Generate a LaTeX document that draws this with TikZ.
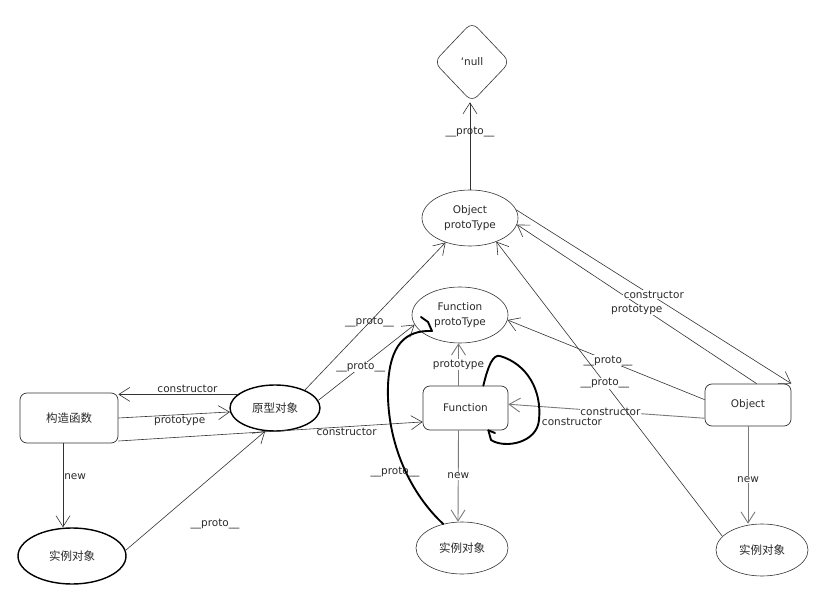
\documentclass[tikz,border=0pt]{standalone}
\usepackage{fontspec}
\setmainfont{DejaVu Sans}
\newfontfamily\cjk{Noto Sans CJK SC}
\usetikzlibrary{arrows.meta,shapes.geometric}
\definecolor{ln}{HTML}{333333}
\definecolor{gln}{HTML}{7A7A7A}
\definecolor{txt}{HTML}{2A2A2A}
\begin{document}
\begin{tikzpicture}[x=1pt,y=-1pt,
  every node/.style={font=\fontsize{10.5}{15}\selectfont, text=txt},
  cjkfont/.style={font=\cjk\fontsize{11.5}{14}\selectfont},
  box/.style={draw=ln, line width=0.7pt, rounded corners=7pt, inner sep=0pt},
  ell/.style={ellipse, draw=ln, line width=0.6pt, inner sep=0pt, align=center},
  thickell/.style={ellipse, draw=black, line width=1.4pt, inner sep=0pt},
  conn/.style={draw=ln, line width=0.6pt, -{Straight Barb[length=11pt,width=14pt]}},
  gconn/.style={draw=gln, line width=0.9pt, -{Straight Barb[length=11pt,width=14pt]}},
  lbl/.style={fill=white, inner sep=0.5pt},
  flt/.style={inner sep=1pt},
  pen/.style={draw=black, line width=1.9pt, line cap=round, line join=round}]
\fill[white] (0,0) rectangle (827,601);
\useasboundingbox (0,0) rectangle (827,601);

% nodes
\node[diamond, draw=ln, line width=0.6pt, rounded corners=8pt, minimum width=76, minimum height=80, inner sep=0pt] (null) at (472,62) {`null};
\node[ell, minimum width=96, minimum height=56] (optype) at (470,218) {Object\\protoType};
\node[ell, minimum width=96, minimum height=56] (fptype) at (460,315) {Function\\protoType};
\node[box, minimum width=85, minimum height=44] (fn) at (465.5,408) {Function};
\node[box, minimum width=86, minimum height=42] (obj) at (748,405) {Object};
\node[box, minimum width=98, minimum height=50, cjkfont] (ctor) at (69,418) {构造函数};
\node[thickell, minimum width=90, minimum height=46, cjkfont] (proto) at (275,408) {原型对象};
\node[thickell, minimum width=108, minimum height=56, cjkfont] (inst1) at (72,556) {实例对象};
\node[ell, minimum width=92, minimum height=52, cjkfont] (inst2) at (462,548) {实例对象};
\node[ell, minimum width=92, minimum height=52, cjkfont] (inst3) at (762,550) {实例对象};

% connectors
\draw[conn] (optype.north) -- node[flt,pos=0.66]{\_\_proto\_\_} (optype.north |- null.south);
\draw[conn] (proto.31) -- node[flt,pos=0.46]{\_\_proto\_\_} (optype.225);
\draw[conn] (proto.10) -- node[lbl,pos=0.44]{\_\_proto\_\_} (fptype.192);
\draw[conn] (ctor.east) -- node[flt,below,pos=0.55]{prototype} (proto.185);
\draw[conn] (proto.160) -- node[flt,above,pos=0.42]{constructor} (proto.160 -| ctor.east);
\draw[conn] (ctor.-25) -- node[flt,below,pos=0.75]{constructor} (fn.198);
\draw[conn] ([xshift=-6pt]ctor.south) -- node[flt,right,pos=0.4]{new} ([xshift=-9pt]inst1.north);
\draw[conn] (inst1.6) -- (proto.247);
\node[flt] (p1) at (215,524) {\_\_proto\_\_};

\draw[gconn] ([xshift=-7pt]fn.north) -- node[lbl]{prototype} ([xshift=-7pt]fn.north |- fptype.south);
\draw[gconn] ([xshift=-7pt]fn.south) -- node[lbl]{new} ([xshift=-4pt]inst2.north);
\draw[gconn] (obj.197) -- node[lbl,pos=0.48]{constructor} (fn.5);
\draw[conn] (obj.173) -- node[lbl,pos=0.49]{\_\_proto\_\_} (fptype.-6);
\draw[conn] (inst3.161) -- node[lbl,pos=0.52]{\_\_proto\_\_} (optype.-42);
\draw[conn] (obj.68) -- node[lbl,pos=0.5,yshift=-6pt]{prototype} (optype.-8);
\draw[conn] (optype.10) -- node[lbl,pos=0.5,yshift=2pt]{constructor} (obj.north east);
\draw[gconn] (obj.south) -- node[lbl,pos=0.55]{new} (obj.south |- inst3.north);

% freehand strokes
\draw[pen] ([xshift=-25pt]fn.north east) .. controls (488,366) and (493,354) .. (500,356)
  .. controls (527,364) and (542,390) .. (539,420)
  .. controls (537,443) and (505,449) .. (491,440) -- ([xshift=-20pt]fn.south east);
\draw[pen] ([xshift=-20pt]fn.south east) -- (495,433);
\node[flt] (loopl) at (572,422) {constructor};

\draw[pen] (inst2.128) .. controls (412,495) and (386,445) .. (388,385)
  .. controls (390,345) and (405,330) .. (432,331) -- (428,322) -- (421,317);
\node[flt] (p2) at (395,472) {\_\_proto\_\_};
\end{tikzpicture}
\end{document}
